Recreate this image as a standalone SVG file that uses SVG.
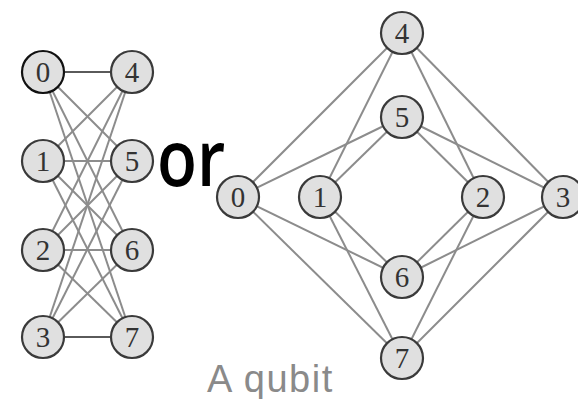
<svg xmlns="http://www.w3.org/2000/svg" width="578" height="399" viewBox="0 0 578 399">
<style>
.e{stroke:#8c8c8c;stroke-width:2;fill:none}
.ed{stroke:#5a5a5a;stroke-width:2.2;fill:none}
.n circle{fill:#e0e0e0;stroke:#3a3a3a;stroke-width:2.2}
.n text{font-family:"Liberation Serif","DejaVu Serif",serif;font-size:29px;fill:#333;text-anchor:middle;dominant-baseline:central}
</style>
<rect width="578" height="399" fill="#fff"/>
<g id="connectors">
<line class="ed" x1="43" y1="72" x2="132" y2="72"/>
<line class="e" x1="43" y1="72" x2="132" y2="161"/>
<line class="e" x1="43" y1="72" x2="132" y2="250"/>
<line class="e" x1="43" y1="72" x2="132" y2="337"/>
<line class="e" x1="43" y1="161" x2="132" y2="72"/>
<line class="e" x1="43" y1="161" x2="132" y2="161"/>
<line class="e" x1="43" y1="161" x2="132" y2="250"/>
<line class="e" x1="43" y1="161" x2="132" y2="337"/>
<line class="e" x1="43" y1="250" x2="132" y2="72"/>
<line class="e" x1="43" y1="250" x2="132" y2="161"/>
<line class="e" x1="43" y1="250" x2="132" y2="250"/>
<line class="e" x1="43" y1="250" x2="132" y2="337"/>
<line class="e" x1="43" y1="337" x2="132" y2="72"/>
<line class="e" x1="43" y1="337" x2="132" y2="161"/>
<line class="e" x1="43" y1="337" x2="132" y2="250"/>
<line class="ed" x1="43" y1="337" x2="132" y2="337"/>
<line class="e" x1="238" y1="197" x2="402" y2="33"/>
<line class="e" x1="238" y1="197" x2="402" y2="117"/>
<line class="e" x1="238" y1="197" x2="402" y2="277"/>
<line class="e" x1="238" y1="197" x2="402" y2="358"/>
<line class="e" x1="320" y1="197" x2="402" y2="33"/>
<line class="e" x1="320" y1="197" x2="402" y2="117"/>
<line class="e" x1="320" y1="197" x2="402" y2="277"/>
<line class="e" x1="320" y1="197" x2="402" y2="358"/>
<line class="e" x1="483" y1="197" x2="402" y2="33"/>
<line class="e" x1="483" y1="197" x2="402" y2="117"/>
<line class="e" x1="483" y1="197" x2="402" y2="277"/>
<line class="e" x1="483" y1="197" x2="402" y2="358"/>
<line class="e" x1="563" y1="197" x2="402" y2="33"/>
<line class="e" x1="563" y1="197" x2="402" y2="117"/>
<line class="e" x1="563" y1="197" x2="402" y2="277"/>
<line class="e" x1="563" y1="197" x2="402" y2="358"/>
</g>
<g id="left-0" class="n"><circle cx="43" cy="72" r="21" style="stroke:#111"/><text x="43" y="72">0</text></g>
<g id="left-1" class="n"><circle cx="43" cy="161" r="21"/><text x="43" y="161">1</text></g>
<g id="left-2" class="n"><circle cx="43" cy="250" r="21"/><text x="43" y="250">2</text></g>
<g id="left-3" class="n"><circle cx="43" cy="337" r="21"/><text x="43" y="337">3</text></g>
<g id="left-4" class="n"><circle cx="132" cy="72" r="21"/><text x="132" y="72">4</text></g>
<g id="left-5" class="n"><circle cx="132" cy="161" r="21"/><text x="132" y="161">5</text></g>
<g id="left-6" class="n"><circle cx="132" cy="250" r="21"/><text x="132" y="250">6</text></g>
<g id="left-7" class="n"><circle cx="132" cy="337" r="21"/><text x="132" y="337">7</text></g>
<g id="right-0" class="n"><circle cx="238" cy="197" r="21"/><text x="238" y="197">0</text></g>
<g id="right-1" class="n"><circle cx="320" cy="197" r="21"/><text x="320" y="197">1</text></g>
<g id="right-2" class="n"><circle cx="483" cy="197" r="21"/><text x="483" y="197">2</text></g>
<g id="right-3" class="n"><circle cx="563" cy="197" r="21"/><text x="563" y="197">3</text></g>
<g id="right-4" class="n"><circle cx="402" cy="33" r="21"/><text x="402" y="33">4</text></g>
<g id="right-5" class="n"><circle cx="402" cy="117" r="21"/><text x="402" y="117">5</text></g>
<g id="right-6" class="n"><circle cx="402" cy="277" r="21"/><text x="402" y="277">6</text></g>
<g id="right-7" class="n"><circle cx="402" cy="358" r="21"/><text x="402" y="358">7</text></g>
<text transform="translate(157,186) scale(0.84,1)" font-family="Open Sans, sans-serif" font-weight="600" font-size="78" fill="#000">or</text>
<text x="207" y="392" font-family="Liberation Sans, sans-serif" font-size="38" letter-spacing="1.5" fill="#8a8a8a">A qubit</text>
</svg>
